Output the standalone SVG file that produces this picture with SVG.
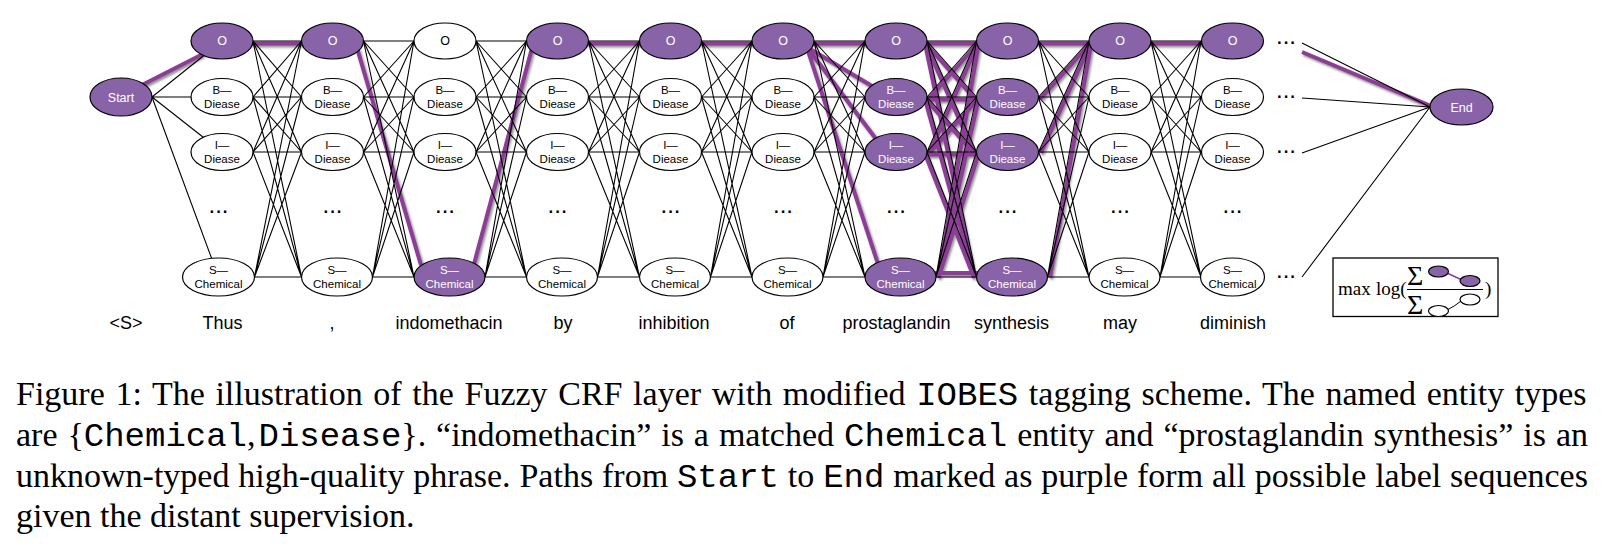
<svg xmlns="http://www.w3.org/2000/svg" width="1609" height="553" viewBox="0 0 1609 553">
<defs>
<filter id="sh" x="-5%" y="-5%" width="110%" height="115%">
<feDropShadow dx="1.5" dy="2" stdDeviation="1.2" flood-color="#444" flood-opacity="0.6"/>
</filter>
</defs>
<style>
.e{stroke:#000;stroke-width:1.1;fill:none}
.p{stroke:#8C3D96;stroke-width:4;fill:none}
.nw{fill:#fff;stroke:#000;stroke-width:1.2}
.np{fill:#8963A8;stroke:#000;stroke-width:1.2}
.t{font-family:"Liberation Sans",Arial,sans-serif;text-anchor:middle;fill:#000}
.tw{fill:#fff}
.o{font-size:12.5px}
.s{font-size:11.5px}
.w{font-family:"Liberation Sans",Arial,sans-serif;font-size:18px;text-anchor:middle;fill:#000}
.d{font-family:"Liberation Sans",Arial,sans-serif;font-size:24px;fill:#000}
.dm{text-anchor:middle}
.cap{font-family:"Liberation Serif","Times New Roman",serif;font-size:34px;fill:#000}
.m{font-family:"Liberation Mono","Courier New",monospace}
.f{font-family:"Liberation Serif","Times New Roman",serif;font-size:19px;fill:#000}
.sig{font-family:"Liberation Serif","Times New Roman",serif;font-size:28px;fill:#000}
</style>
<rect width="1609" height="553" fill="#fff"/>

<g id="connectors">
<g id="highlight" filter="url(#sh)">
<path class="p" d="M142 85L203 54M251 43.5L303.5 43.5M357 48L421 265M474 264L532 48M586.5 43.5L641.5 43.5M699.5 43.5L754 43.5M812 43.5L867 43.5M810 49L872 86M809 50L876 139M808 51L878 264"/>
<path class="p" d="M925 43.5L978.5 43.5M925.1 42.7L974.6 98.7M924.7 42L974.2 153M924.6 41.5L974.1 277.5M928.9 98.7L978.4 42.7M925 99.5L978.5 99.5M925.1 98.7L974.6 153.7M924.6 97.7L974.1 277.7M929.3 153L978.8 42M928.9 153.7L978.4 98.7M925 154.5L978.5 154.5M924.7 152.9L974.2 277.9M938.5 277.4L979 41.4M938.4 277.5L978.9 97.5M938.4 277.8L978.9 152.8M934 273L978.5 273"/>
<path class="p" d="M1036.5 43.5L1091 43.5M1040.4 98.7L1090.9 42.7M1040.8 153L1091.3 42M1050 277.4L1091.5 41.4M1149 43.5L1203.5 43.5M1302 52L1431 106"/>
</g>
<path class="e" d="M152 97L222 41M152 97L222 97M152 97L222 152M152 97L218.5 277"/>
<path class="e" d="M253 41L301.5 41M253 41L301.5 97M253 41L301.5 152M253 41L301.5 277M253 97L301.5 41M253 97L301.5 97M253 97L301.5 152M253 97L301.5 277M253 152L301.5 41M253 152L301.5 97M253 152L301.5 152M253 152L301.5 277M254.5 277L301.5 41M254.5 277L301.5 97M254.5 277L301.5 152M254.5 277L301.5 277"/>
<path class="e" d="M363.5 41L414 41M363.5 41L414 97M363.5 41L414 152M363.5 41L414 277M363.5 97L414 41M363.5 97L414 97M363.5 97L414 152M363.5 97L414 277M363.5 152L414 41M363.5 152L414 97M363.5 152L414 152M363.5 152L414 277M372.5 277L414 41M372.5 277L414 97M372.5 277L414 152M372.5 277L414 277"/>
<path class="e" d="M476 41L526.5 41M476 41L526.5 97M476 41L526.5 152M476 41L526.5 277M476 97L526.5 41M476 97L526.5 97M476 97L526.5 152M476 97L526.5 277M476 152L526.5 41M476 152L526.5 97M476 152L526.5 152M476 152L526.5 277M485 277L526.5 41M485 277L526.5 97M485 277L526.5 152M485 277L526.5 277"/>
<path class="e" d="M588.5 41L639.5 41M588.5 41L639.5 97M588.5 41L639.5 152M588.5 41L639.5 277M588.5 97L639.5 41M588.5 97L639.5 97M588.5 97L639.5 152M588.5 97L639.5 277M588.5 152L639.5 41M588.5 152L639.5 97M588.5 152L639.5 152M588.5 152L639.5 277M597.5 277L639.5 41M597.5 277L639.5 97M597.5 277L639.5 152M597.5 277L639.5 277"/>
<path class="e" d="M701.5 41L752 41M701.5 41L752 97M701.5 41L752 152M701.5 41L752 277M701.5 97L752 41M701.5 97L752 97M701.5 97L752 152M701.5 97L752 277M701.5 152L752 41M701.5 152L752 97M701.5 152L752 152M701.5 152L752 277M710.5 277L752 41M710.5 277L752 97M710.5 277L752 152M710.5 277L752 277"/>
<path class="e" d="M814 41L865 41M814 41L865 97M814 41L865 152M814 41L865 277M814 97L865 41M814 97L865 97M814 97L865 152M814 97L865 277M814 152L865 41M814 152L865 97M814 152L865 152M814 152L865 277M823 277L865 41M823 277L865 97M823 277L865 152M823 277L865 277"/>
<path class="e" d="M927 41L976.5 41M927 41L976.5 97M927 41L976.5 152M927 41L976.5 277M927 97L976.5 41M927 97L976.5 97M927 97L976.5 152M927 97L976.5 277M927 152L976.5 41M927 152L976.5 97M927 152L976.5 152M927 152L976.5 277M936 277L976.5 41M936 277L976.5 97M936 277L976.5 152M936 277L976.5 277"/>
<path class="e" d="M1038.5 41L1089 41M1038.5 41L1089 97M1038.5 41L1089 152M1038.5 41L1089 277M1038.5 97L1089 41M1038.5 97L1089 97M1038.5 97L1089 152M1038.5 97L1089 277M1038.5 152L1089 41M1038.5 152L1089 97M1038.5 152L1089 152M1038.5 152L1089 277M1047.5 277L1089 41M1047.5 277L1089 97M1047.5 277L1089 152M1047.5 277L1089 277"/>
<path class="e" d="M1151 41L1201 41M1151 41L1201 97M1151 41L1201 152M1151 41L1201 277M1151 97L1201 41M1151 97L1201 97M1151 97L1201 152M1151 97L1201 277M1151 152L1201 41M1151 152L1201 97M1151 152L1201 152M1151 152L1201 277M1160 277L1201 41M1160 277L1201 97M1160 277L1201 152M1160 277L1201 277"/>
<path class="e" d="M1302 43L1430 107M1302 98L1430 107M1302 153L1430 107M1302 277L1430 107"/>
</g>

<g id="start"><ellipse class="np" cx="121" cy="97" rx="31" ry="19"/><text class="t tw o" x="121" y="101.5">Start</text></g>
<g id="end"><ellipse class="np" cx="1461.5" cy="107" rx="31.5" ry="18"/><text class="t tw o" x="1461.5" y="111.5">End</text></g>

<g id="c1-O"><ellipse class="np" cx="222" cy="41" rx="31" ry="18"/><text class="t tw o" x="222" y="45.3">O</text></g>
<g id="c1-B"><ellipse class="nw" cx="222" cy="97" rx="31" ry="18.5"/><text class="t s" x="222" y="93.6">B—</text><text class="t s" x="222" y="107.6">Diease</text></g>
<g id="c1-I"><ellipse class="nw" cx="222" cy="152" rx="31" ry="18.5"/><text class="t s" x="222" y="148.6">I—</text><text class="t s" x="222" y="162.6">Diease</text></g>
<g id="c1-S"><ellipse class="nw" cx="218.5" cy="277" rx="36" ry="19"/><text class="t s" x="218.5" y="273.6">S—</text><text class="t s" x="218.5" y="287.6">Chemical</text></g>

<g id="c2-O"><ellipse class="np" cx="332.5" cy="41" rx="31" ry="18"/><text class="t tw o" x="332.5" y="45.3">O</text></g>
<g id="c2-B"><ellipse class="nw" cx="332.5" cy="97" rx="31" ry="18.5"/><text class="t s" x="332.5" y="93.6">B—</text><text class="t s" x="332.5" y="107.6">Diease</text></g>
<g id="c2-I"><ellipse class="nw" cx="332.5" cy="152" rx="31" ry="18.5"/><text class="t s" x="332.5" y="148.6">I—</text><text class="t s" x="332.5" y="162.6">Diease</text></g>
<g id="c2-S"><ellipse class="nw" cx="337" cy="277" rx="35.5" ry="19"/><text class="t s" x="337" y="273.6">S—</text><text class="t s" x="337" y="287.6">Chemical</text></g>

<g id="c3-O"><ellipse class="nw" cx="445" cy="41" rx="31" ry="18"/><text class="t o" x="445" y="45.3">O</text></g>
<g id="c3-B"><ellipse class="nw" cx="445" cy="97" rx="31" ry="18.5"/><text class="t s" x="445" y="93.6">B—</text><text class="t s" x="445" y="107.6">Diease</text></g>
<g id="c3-I"><ellipse class="nw" cx="445" cy="152" rx="31" ry="18.5"/><text class="t s" x="445" y="148.6">I—</text><text class="t s" x="445" y="162.6">Diease</text></g>
<g id="c3-S"><ellipse class="np" cx="449.5" cy="277" rx="35.5" ry="19"/><text class="t tw s" x="449.5" y="273.6">S—</text><text class="t tw s" x="449.5" y="287.6">Chemical</text></g>

<g id="c4-O"><ellipse class="np" cx="557.5" cy="41" rx="31" ry="18"/><text class="t tw o" x="557.5" y="45.3">O</text></g>
<g id="c4-B"><ellipse class="nw" cx="557.5" cy="97" rx="31" ry="18.5"/><text class="t s" x="557.5" y="93.6">B—</text><text class="t s" x="557.5" y="107.6">Diease</text></g>
<g id="c4-I"><ellipse class="nw" cx="557.5" cy="152" rx="31" ry="18.5"/><text class="t s" x="557.5" y="148.6">I—</text><text class="t s" x="557.5" y="162.6">Diease</text></g>
<g id="c4-S"><ellipse class="nw" cx="562" cy="277" rx="35.5" ry="19"/><text class="t s" x="562" y="273.6">S—</text><text class="t s" x="562" y="287.6">Chemical</text></g>

<g id="c5-O"><ellipse class="np" cx="670.5" cy="41" rx="31" ry="18"/><text class="t tw o" x="670.5" y="45.3">O</text></g>
<g id="c5-B"><ellipse class="nw" cx="670.5" cy="97" rx="31" ry="18.5"/><text class="t s" x="670.5" y="93.6">B—</text><text class="t s" x="670.5" y="107.6">Diease</text></g>
<g id="c5-I"><ellipse class="nw" cx="670.5" cy="152" rx="31" ry="18.5"/><text class="t s" x="670.5" y="148.6">I—</text><text class="t s" x="670.5" y="162.6">Diease</text></g>
<g id="c5-S"><ellipse class="nw" cx="675" cy="277" rx="35.5" ry="19"/><text class="t s" x="675" y="273.6">S—</text><text class="t s" x="675" y="287.6">Chemical</text></g>

<g id="c6-O"><ellipse class="np" cx="783" cy="41" rx="31" ry="18"/><text class="t tw o" x="783" y="45.3">O</text></g>
<g id="c6-B"><ellipse class="nw" cx="783" cy="97" rx="31" ry="18.5"/><text class="t s" x="783" y="93.6">B—</text><text class="t s" x="783" y="107.6">Diease</text></g>
<g id="c6-I"><ellipse class="nw" cx="783" cy="152" rx="31" ry="18.5"/><text class="t s" x="783" y="148.6">I—</text><text class="t s" x="783" y="162.6">Diease</text></g>
<g id="c6-S"><ellipse class="nw" cx="787.5" cy="277" rx="35.5" ry="19"/><text class="t s" x="787.5" y="273.6">S—</text><text class="t s" x="787.5" y="287.6">Chemical</text></g>

<g id="c7-O"><ellipse class="np" cx="896" cy="41" rx="31" ry="18"/><text class="t tw o" x="896" y="45.3">O</text></g>
<g id="c7-B"><ellipse class="np" cx="896" cy="97" rx="31" ry="18.5"/><text class="t tw s" x="896" y="93.6">B—</text><text class="t tw s" x="896" y="107.6">Diease</text></g>
<g id="c7-I"><ellipse class="np" cx="896" cy="152" rx="31" ry="18.5"/><text class="t tw s" x="896" y="148.6">I—</text><text class="t tw s" x="896" y="162.6">Diease</text></g>
<g id="c7-S"><ellipse class="np" cx="900.5" cy="277" rx="35.5" ry="19"/><text class="t tw s" x="900.5" y="273.6">S—</text><text class="t tw s" x="900.5" y="287.6">Chemical</text></g>

<g id="c8-O"><ellipse class="np" cx="1007.5" cy="41" rx="31" ry="18"/><text class="t tw o" x="1007.5" y="45.3">O</text></g>
<g id="c8-B"><ellipse class="np" cx="1007.5" cy="97" rx="31" ry="18.5"/><text class="t tw s" x="1007.5" y="93.6">B—</text><text class="t tw s" x="1007.5" y="107.6">Diease</text></g>
<g id="c8-I"><ellipse class="np" cx="1007.5" cy="152" rx="31" ry="18.5"/><text class="t tw s" x="1007.5" y="148.6">I—</text><text class="t tw s" x="1007.5" y="162.6">Diease</text></g>
<g id="c8-S"><ellipse class="np" cx="1012" cy="277" rx="35.5" ry="19"/><text class="t tw s" x="1012" y="273.6">S—</text><text class="t tw s" x="1012" y="287.6">Chemical</text></g>

<g id="c9-O"><ellipse class="np" cx="1120" cy="41" rx="31" ry="18"/><text class="t tw o" x="1120" y="45.3">O</text></g>
<g id="c9-B"><ellipse class="nw" cx="1120" cy="97" rx="31" ry="18.5"/><text class="t s" x="1120" y="93.6">B—</text><text class="t s" x="1120" y="107.6">Diease</text></g>
<g id="c9-I"><ellipse class="nw" cx="1120" cy="152" rx="31" ry="18.5"/><text class="t s" x="1120" y="148.6">I—</text><text class="t s" x="1120" y="162.6">Diease</text></g>
<g id="c9-S"><ellipse class="nw" cx="1124.5" cy="277" rx="35.5" ry="19"/><text class="t s" x="1124.5" y="273.6">S—</text><text class="t s" x="1124.5" y="287.6">Chemical</text></g>

<g id="c10-O"><ellipse class="np" cx="1232.5" cy="41" rx="31" ry="18"/><text class="t tw o" x="1232.5" y="45.3">O</text></g>
<g id="c10-B"><ellipse class="nw" cx="1232.5" cy="97" rx="31" ry="18.5"/><text class="t s" x="1232.5" y="93.6">B—</text><text class="t s" x="1232.5" y="107.6">Diease</text></g>
<g id="c10-I"><ellipse class="nw" cx="1232.5" cy="152" rx="31" ry="18.5"/><text class="t s" x="1232.5" y="148.6">I—</text><text class="t s" x="1232.5" y="162.6">Diease</text></g>
<g id="c10-S"><ellipse class="nw" cx="1232.5" cy="277" rx="32" ry="19"/><text class="t s" x="1232.5" y="273.6">S—</text><text class="t s" x="1232.5" y="287.6">Chemical</text></g>

<g id="ellipses-dots">
<text class="d dm" x="218.5" y="213.3">...</text>
<text class="d dm" x="332.5" y="213.3">...</text>
<text class="d dm" x="445" y="213.3">...</text>
<text class="d dm" x="557.5" y="213.3">...</text>
<text class="d dm" x="670.5" y="213.3">...</text>
<text class="d dm" x="783" y="213.3">...</text>
<text class="d dm" x="896" y="213.3">...</text>
<text class="d dm" x="1007.5" y="213.3">...</text>
<text class="d dm" x="1120" y="213.3">...</text>
<text class="d dm" x="1232.5" y="213.3">...</text>
<text class="d" x="1276" y="43.6">...</text>
<text class="d" x="1276" y="98">...</text>
<text class="d" x="1276" y="153">...</text>
<text class="d" x="1276" y="278">...</text>
</g>

<g id="words">
<text class="w" x="126" y="329">&lt;S&gt;</text>
<text class="w" x="222.5" y="329">Thus</text>
<text class="w" x="332" y="329">,</text>
<text class="w" x="449" y="329">indomethacin</text>
<text class="w" x="563" y="329">by</text>
<text class="w" x="674" y="329">inhibition</text>
<text class="w" x="787" y="329">of</text>
<text class="w" x="896.5" y="329">prostaglandin</text>
<text class="w" x="1011.5" y="329">synthesis</text>
<text class="w" x="1120" y="329">may</text>
<text class="w" x="1233" y="329">diminish</text>
</g>

<g id="formula">
<rect x="1333" y="258" width="165" height="58.5" fill="#fff" stroke="#000" stroke-width="1.3"/>
<text class="f" x="1338" y="295">max</text>
<text class="f" x="1376" y="295">log(</text>
<text class="sig" x="1407" y="285">Σ</text>
<text class="sig" x="1407" y="313.5">Σ</text>
<line x1="1407" y1="289.5" x2="1483" y2="289.5" stroke="#000" stroke-width="1"/>
<line x1="1448" y1="273.5" x2="1461" y2="279.5" stroke="#8C3D96" stroke-width="1.5"/>
<ellipse class="np" cx="1438.5" cy="271.5" rx="10" ry="5.5" stroke-width="1"/>
<ellipse class="np" cx="1470" cy="281" rx="10" ry="5.5" stroke-width="1"/>
<path d="M1448 309.5Q1455 306 1461 301" fill="none" stroke="#000" stroke-width="1"/>
<ellipse class="nw" cx="1438.5" cy="311" rx="10" ry="5.5" stroke-width="1"/>
<ellipse class="nw" cx="1470" cy="299.5" rx="10" ry="5.5" stroke-width="1"/>
<text class="f" x="1485" y="295">)</text>
</g>

<g id="caption">
<text class="cap" x="16" y="405" word-spacing="2.14">Figure 1: The illustration of the Fuzzy CRF layer with modified <tspan class="m">IOBES</tspan> tagging scheme. The named entity types</text>
<text class="cap" x="16" y="446" word-spacing="1.43">are {<tspan class="m">Chemical</tspan>,<tspan class="m" dx="3">Disease</tspan>}. “indomethacin” is a matched <tspan class="m">Chemical</tspan> entity and “prostaglandin synthesis” is an</text>
<text class="cap" x="16" y="486.5" word-spacing="0.37">unknown-typed high-quality phrase. Paths from <tspan class="m">Start</tspan> to <tspan class="m">End</tspan> marked as purple form all possible label sequences</text>
<text class="cap" x="16" y="527">given the distant supervision.</text>
</g>
</svg>
